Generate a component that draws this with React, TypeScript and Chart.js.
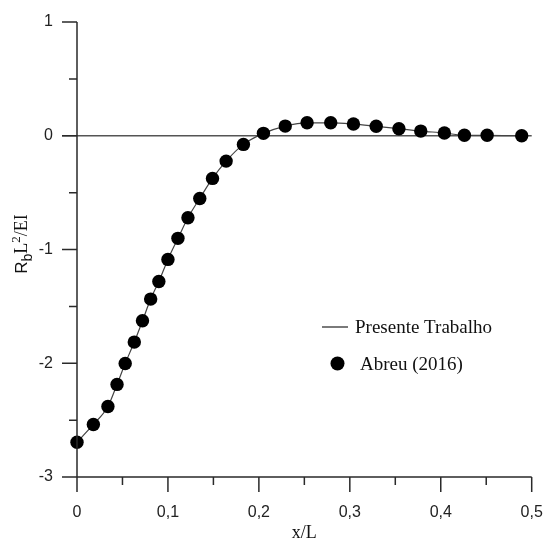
import React, { useEffect, useRef } from "react";
import { Chart, registerables } from "chart.js";

Chart.register(...registerables);

const xValues = [0, 0.018, 0.034, 0.044, 0.053, 0.063, 0.072, 0.081, 0.09, 0.1, 0.111, 0.122, 0.135, 0.149, 0.164, 0.183, 0.205, 0.229, 0.253, 0.279, 0.304, 0.329, 0.354, 0.378, 0.404, 0.426, 0.451, 0.489];
const yValues = [-2.694, -2.538, -2.38, -2.186, -2.002, -1.814, -1.627, -1.436, -1.281, -1.087, -0.902, -0.721, -0.551, -0.375, -0.223, -0.076, 0.021, 0.085, 0.114, 0.114, 0.103, 0.083, 0.062, 0.041, 0.024, 0.004, 0.004, 0];
const lineLabel = "Presente Trabalho";
const pointLabel = "Abreu (2016)";
const xTitle = "x/L";

const SANS = "'Liberation Sans', Arial, sans-serif";
const SERIF = "'Liberation Serif', 'Times New Roman', serif";
const AXIS = "#2a2a2a";

const isMult = (v: number, step: number) => Math.abs(v / step - Math.round(v / step)) < 1e-6;

const customPlugin = {
  id: "custom",
  beforeDatasetsDraw(chart: any) {
    const { ctx, chartArea, scales } = chart;
    const y0 = scales.y.getPixelForValue(0);
    ctx.save();
    ctx.strokeStyle = "#555";
    ctx.lineWidth = 1.5;
    ctx.beginPath();
    ctx.moveTo(chartArea.left - 15, y0);
    ctx.lineTo(chartArea.right, y0);
    ctx.stroke();
    ctx.restore();
  },
  afterDraw(chart: any) {
    const { ctx, chartArea, scales } = chart;
    const { left, right, top, bottom } = chartArea;
    ctx.save();
    ctx.strokeStyle = AXIS;
    ctx.lineWidth = 1.5;
    ctx.beginPath();
    ctx.moveTo(left, top);
    ctx.lineTo(left, bottom);
    ctx.moveTo(left, bottom);
    ctx.lineTo(right, bottom);
    ctx.stroke();
    ctx.beginPath();
    scales.y.ticks.forEach((t: any) => {
      const p = scales.y.getPixelForValue(t.value);
      const len = isMult(t.value, 1) ? 15 : 8;
      ctx.moveTo(left - len, p);
      ctx.lineTo(left, p);
    });
    scales.x.ticks.forEach((t: any) => {
      const p = scales.x.getPixelForValue(t.value);
      const len = isMult(t.value, 0.1) ? 15 : 8;
      ctx.moveTo(p, bottom);
      ctx.lineTo(p, bottom + len);
    });
    ctx.stroke();

    // x title
    ctx.fillStyle = "#111";
    ctx.font = `18px ${SERIF}`;
    ctx.textAlign = "center";
    ctx.textBaseline = "alphabetic";
    ctx.fillText(xTitle, (left + right) / 2, 538);

    // y title with sub/superscript
    const parts = [
      { t: "R", f: `17px ${SANS}`, dy: 0 },
      { t: "b", f: `14px ${SANS}`, dy: 5 },
      { t: "L", f: `18px ${SERIF}`, dy: 0 },
      { t: "2", f: `13px ${SERIF}`, dy: -7 },
      { t: "/EI", f: `18px ${SERIF}`, dy: 0 },
    ];
    let total = 0;
    parts.forEach((p) => {
      ctx.font = p.f;
      total += ctx.measureText(p.t).width;
    });
    ctx.save();
    ctx.translate(27, 244);
    ctx.rotate(-Math.PI / 2);
    ctx.textAlign = "left";
    let xx = -total / 2;
    parts.forEach((p) => {
      ctx.font = p.f;
      ctx.fillText(p.t, xx, p.dy);
      xx += ctx.measureText(p.t).width;
    });
    ctx.restore();

    // legend
    ctx.strokeStyle = "#222";
    ctx.lineWidth = 1.2;
    ctx.beginPath();
    ctx.moveTo(322, 327);
    ctx.lineTo(348, 327);
    ctx.stroke();
    ctx.fillStyle = "#000";
    ctx.beginPath();
    ctx.arc(337.5, 363.5, 7, 0, Math.PI * 2);
    ctx.fill();
    ctx.fillStyle = "#111";
    ctx.font = `19px ${SERIF}`;
    ctx.textAlign = "left";
    ctx.fillText(lineLabel, 355, 333);
    ctx.fillText(pointLabel, 360, 370);
    ctx.restore();
  },
};

export default function App() {
  const ref = useRef<HTMLCanvasElement>(null);
  useEffect(() => {
    if (!ref.current) return;
    const pts = xValues.map((x, i) => ({ x, y: yValues[i] }));
    const chart = new Chart(ref.current, {
      type: "scatter",
      data: {
        datasets: [
          {
            label: pointLabel,
            data: pts,
            showLine: false,
            pointRadius: 6.7,
            pointBackgroundColor: "#000",
            pointBorderWidth: 0,
            clip: false,
          } as any,
          {
            label: lineLabel,
            data: pts,
            showLine: true,
            pointRadius: 0,
            borderColor: "#444",
            borderWidth: 1.2,
            cubicInterpolationMode: "monotone",
            clip: false,
          } as any,
        ],
      },
      options: {
        responsive: false,
        animation: false,
        layout: { padding: { top: 22, right: 12.3, left: 0, bottom: 0 } },
        plugins: { legend: { display: false }, tooltip: { enabled: false } },
        scales: {
          x: {
            type: "linear",
            min: 0,
            max: 0.5,
            grid: { display: true, drawOnChartArea: false, drawTicks: true, tickLength: 25, color: "rgba(0,0,0,0)" },
            border: { display: false },
            afterFit: (s: any) => {
              s.height = 62;
            },
            ticks: {
              stepSize: 0.05,
              autoSkip: false,
              maxRotation: 0,
              padding: 1,
              color: "#222",
              font: { family: SANS, size: 16 },
              callback: (v: any) => {
                const n = Number(v);
                if (!isMult(n, 0.1)) return "";
                if (Math.abs(n) < 1e-9) return "0";
                return n.toFixed(1).replace(".", ",");
              },
            },
          },
          y: {
            type: "linear",
            min: -3,
            max: 1,
            grid: { display: true, drawOnChartArea: false, drawTicks: true, tickLength: 23, color: "rgba(0,0,0,0)" },
            border: { display: false },
            afterFit: (s: any) => {
              s.width = 77;
            },
            ticks: {
              stepSize: 0.5,
              autoSkip: false,
              padding: 1,
              color: "#222",
              font: { family: SANS, size: 16 },
              callback: (v: any) => {
                const n = Number(v);
                if (!isMult(n, 1)) return "";
                return String(Math.round(n));
              },
            },
          },
        },
      },
      plugins: [customPlugin],
    });
    return () => chart.destroy();
  }, []);
  return (
    <div style={{ position: "absolute", left: 0, top: 0, width: 544, height: 539, background: "#fff" }}>
      <canvas ref={ref} width={544} height={539} />
    </div>
  );
}
